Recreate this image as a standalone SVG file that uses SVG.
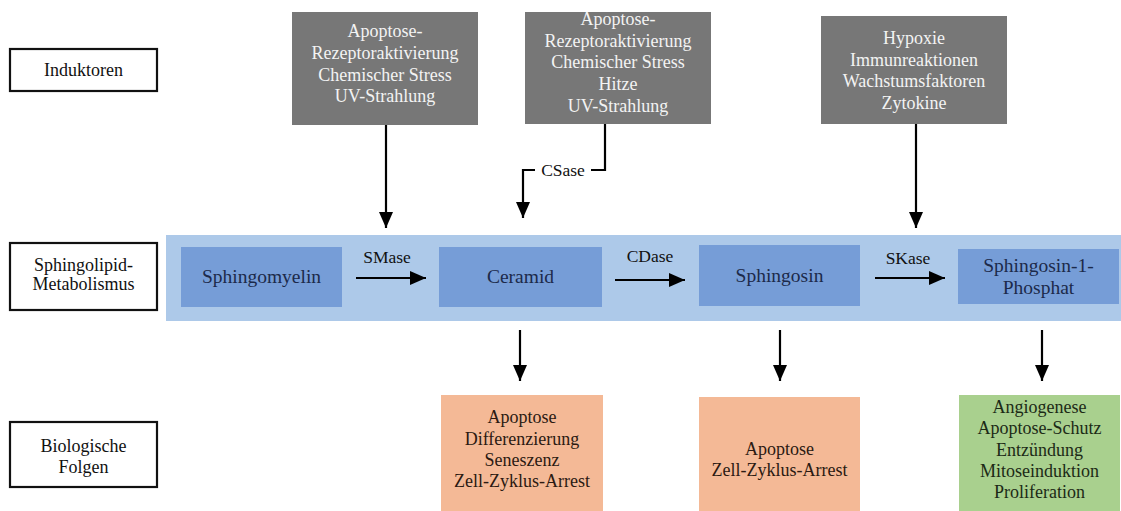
<svg xmlns="http://www.w3.org/2000/svg" width="1121" height="511" viewBox="0 0 1121 511">
<style>
text{font-family:"Liberation Serif","Times New Roman",serif;text-anchor:middle;}
.lbl{font-size:18px;fill:#111;}
.lbox{fill:#fff;stroke:#111;stroke-width:2.2;}
.grey{fill:#777777;}
.gt{font-size:18px;fill:#f3f3f3;}
.band{fill:#adc9e9;}
.blue{fill:#769dd7;}
.bt{font-size:19.5px;fill:#1c2a4a;}
.orange{fill:#f4b996;}
.green{fill:#a9d08e;}
.ot{font-size:18px;fill:#2b1a12;}
.gtx{font-size:18px;fill:#1c2a16;}
.conn{stroke:#000;stroke-width:2.2;fill:none;}
.elbl{font-size:17.5px;fill:#111;}
</style>
<defs>
<marker id="ah" viewBox="0 0 16 14" refX="16" refY="7" markerWidth="16" markerHeight="14" markerUnits="userSpaceOnUse" orient="auto">
<path d="M0,0 L16,7 L0,14 Z" fill="#000"/>
</marker>
</defs>
<rect width="1121" height="511" fill="#fff"/>

<g id="label-induktoren"><rect class="lbox" x="10" y="49" width="147" height="42"/><text class="lbl" x="83.5" y="76">Induktoren</text></g>
<g id="label-metabolismus"><rect class="lbox" x="10" y="243" width="147" height="67"/><text class="lbl" x="83.5" y="271">Sphingolipid-</text><text class="lbl" x="83.5" y="290">Metabolismus</text></g>
<g id="label-folgen"><rect class="lbox" x="10" y="422" width="147" height="65"/><text class="lbl" x="83.5" y="452">Biologische</text><text class="lbl" x="83.5" y="473">Folgen</text></g>

<g id="inducer-1"><rect class="grey" x="292" y="12" width="186" height="113"/>
<text class="gt" x="385" y="37">Apoptose-</text><text class="gt" x="385" y="59">Rezeptoraktivierung</text><text class="gt" x="385" y="81">Chemischer Stress</text><text class="gt" x="385" y="102">UV-Strahlung</text></g>
<g id="inducer-2"><rect class="grey" x="525" y="12" width="186" height="112"/>
<text class="gt" x="618" y="25">Apoptose-</text><text class="gt" x="618" y="47">Rezeptoraktivierung</text><text class="gt" x="618" y="68">Chemischer Stress</text><text class="gt" x="618" y="90">Hitze</text><text class="gt" x="618" y="112">UV-Strahlung</text></g>
<g id="inducer-3"><rect class="grey" x="821" y="16" width="186" height="108"/>
<text class="gt" x="914" y="44">Hypoxie</text><text class="gt" x="914" y="66">Immunreaktionen</text><text class="gt" x="914" y="87">Wachstumsfaktoren</text><text class="gt" x="914" y="109">Zytokine</text></g>

<g id="band"><rect class="band" x="166" y="235" width="955" height="86"/></g>
<g id="sphingomyelin"><rect class="blue" x="181" y="247" width="161" height="60"/><text class="bt" x="261.5" y="283">Sphingomyelin</text></g>
<g id="ceramid"><rect class="blue" x="439" y="247" width="163" height="60"/><text class="bt" x="520.5" y="283">Ceramid</text></g>
<g id="sphingosin"><rect class="blue" x="699" y="245" width="161" height="61"/><text class="bt" x="779.5" y="282">Sphingosin</text></g>
<g id="s1p"><rect class="blue" x="958" y="249" width="161" height="55"/><text class="bt" x="1038.5" y="272">Sphingosin-1-</text><text class="bt" x="1038.5" y="294">Phosphat</text></g>

<g id="effect-ceramid"><rect class="orange" x="441" y="395" width="162" height="116"/>
<text class="ot" x="522" y="423">Apoptose</text><text class="ot" x="522" y="445">Differenzierung</text><text class="ot" x="522" y="466">Seneszenz</text><text class="ot" x="522" y="487">Zell-Zyklus-Arrest</text></g>
<g id="effect-sphingosin"><rect class="orange" x="699" y="397" width="161" height="114"/>
<text class="ot" x="779.5" y="455">Apoptose</text><text class="ot" x="779.5" y="476">Zell-Zyklus-Arrest</text></g>
<g id="effect-s1p"><rect class="green" x="959" y="395" width="161" height="116"/>
<text class="gtx" x="1039.5" y="413">Angiogenese</text><text class="gtx" x="1039.5" y="434">Apoptose-Schutz</text><text class="gtx" x="1039.5" y="456">Entzündung</text><text class="gtx" x="1039.5" y="477">Mitoseinduktion</text><text class="gtx" x="1039.5" y="498">Proliferation</text></g>

<g id="connectors">
<line class="conn" x1="386" y1="125" x2="386" y2="228" marker-end="url(#ah)"/>
<path class="conn" d="M605,124 V170 H591"/>
<path class="conn" d="M535,170 H523 V218" marker-end="url(#ah)"/>
<text class="elbl" x="563" y="176">CSase</text>
<line class="conn" x1="916" y1="124" x2="916" y2="228" marker-end="url(#ah)"/>
<line class="conn" x1="356" y1="278" x2="426" y2="278" marker-end="url(#ah)"/>
<text class="elbl" x="387" y="263">SMase</text>
<line class="conn" x1="615" y1="280" x2="685" y2="280" marker-end="url(#ah)"/>
<text class="elbl" x="650" y="262">CDase</text>
<line class="conn" x1="875" y1="278" x2="945" y2="278" marker-end="url(#ah)"/>
<text class="elbl" x="908" y="264">SKase</text>
<line class="conn" x1="520" y1="330" x2="520" y2="381" marker-end="url(#ah)"/>
<line class="conn" x1="780" y1="330" x2="780" y2="381" marker-end="url(#ah)"/>
<line class="conn" x1="1042" y1="330" x2="1042" y2="381" marker-end="url(#ah)"/>
</g>
</svg>
